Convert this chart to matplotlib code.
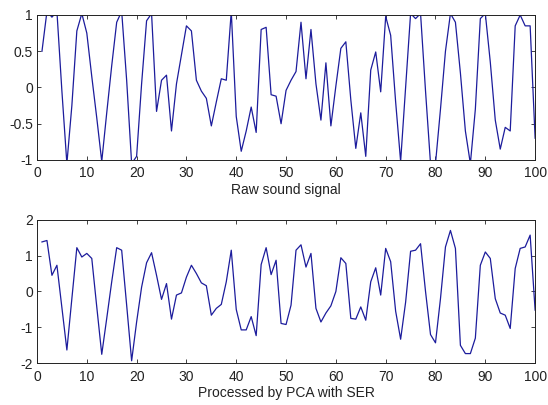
import matplotlib
matplotlib.use("Agg")
import matplotlib.pyplot as plt
from matplotlib.ticker import FuncFormatter

x = list(range(1, 101))

raw_signal = [
    0.5, 1.05, 0.97, 1.05, -0.05, -1.05, -0.25, 0.78, 1.02, 0.75,
    0.15, -0.42, -1.02, -0.35, 0.3, 0.9, 1.05, 0.1, -1.05, -0.95,
    0.05, 0.92, 1.02, -0.33, 0.1, 0.17, -0.6, 0.05, 0.45, 0.85,
    0.78, 0.1, -0.05, -0.15, -0.53, -0.2, 0.12, 0.1, 1.05, -0.4,
    -0.88, -0.6, -0.27, -0.62, 0.8, 0.83, -0.1, -0.12, -0.5, -0.04,
    0.1, 0.22, 0.9, 0.12, 0.8, 0.05, -0.45, 0.34, -0.53, 0.02,
    0.54, 0.63, -0.17, -0.84, -0.35, -0.95, 0.24, 0.49, -0.06, 0.98,
    0.72, -0.2, -1.02, 0.0, 1.02, 0.95, 1.02, -0.05, -1.05, -1.05,
    -0.3, 0.5, 1.02, 0.9, 0.2, -0.6, -1.05, -0.3, 0.95, 1.02,
    0.35, -0.45, -0.85, -0.55, -0.6, 0.85, 1.0, 0.85, 0.85, -0.7,
]

processed = [
    1.38, 1.42, 0.45, 0.73, -0.45, -1.63, -0.2, 1.22, 0.96, 1.06,
    0.92, -0.43, -1.75, -0.75, 0.27, 1.22, 1.15, -0.38, -1.93, -0.85,
    0.12, 0.8, 1.08, 0.45, -0.22, 0.22, -0.77, -0.1, -0.04, 0.4,
    0.73, 0.5, 0.24, 0.16, -0.66, -0.47, -0.36, 0.27, 1.15, -0.5,
    -1.07, -1.07, -0.7, -1.23, 0.75, 1.22, 0.47, 0.87, -0.89, -0.92,
    -0.38, 1.15, 1.3, 0.68, 1.06, -0.47, -0.85, -0.6, -0.4, 0.0,
    0.94, 0.78, -0.75, -0.77, -0.43, -0.8, 0.27, 0.66, -0.1, 1.2,
    0.83, -0.55, -1.33, -0.3, 1.12, 1.15, 1.33, 0.0, -1.2, -1.43,
    -0.2, 1.24, 1.7, 1.2, -1.5, -1.73, -1.73, -1.3, 0.73, 1.1,
    0.92, -0.2, -0.6, -0.66, -1.03, 0.64, 1.2, 1.24, 1.57, -0.52,
]

xticks = list(range(0, 101, 10))
top_yticks = [-1, -0.5, 0, 0.5, 1]
bottom_yticks = [-2, -1, 0, 1, 2]
top_label = "Raw sound signal"
bottom_label = "Processed by PCA with SER"

plt.rcParams['font.family'] = ['Liberation Sans', 'DejaVu Sans']
plt.rcParams['axes.unicode_minus'] = False

line_color = '#1c1c9c'
text_color = '#222222'
fig = plt.figure(figsize=(5.48, 4.05), dpi=100)

ax1 = fig.add_axes([0.0675, 0.605, 0.909, 0.358])
ax2 = fig.add_axes([0.0675, 0.103, 0.909, 0.3546])

def fmt(v, pos):
    return '%g' % v

for ax, y, yt, lab in [(ax1, raw_signal, top_yticks, top_label),
                       (ax2, processed, bottom_yticks, bottom_label)]:
    ax.plot(x, y, color=line_color, linewidth=0.9)
    ax.set_xlim(0, 100)
    ax.set_ylim(yt[0], yt[-1])
    ax.set_xticks(xticks)
    ax.set_yticks(yt)
    ax.yaxis.set_major_formatter(FuncFormatter(fmt))
    ax.tick_params(direction='in', top=True, right=True, length=3,
                   width=0.6, labelsize=10, colors=text_color)
    ax.tick_params(axis='x', pad=4.5)
    ax.tick_params(axis='y', pad=3)
    for s in ax.spines.values():
        s.set_linewidth(0.7)
        s.set_color(text_color)
    ax.set_xlabel(lab, fontsize=10, labelpad=2, color=text_color)

fig.savefig("out.png", dpi=100)
